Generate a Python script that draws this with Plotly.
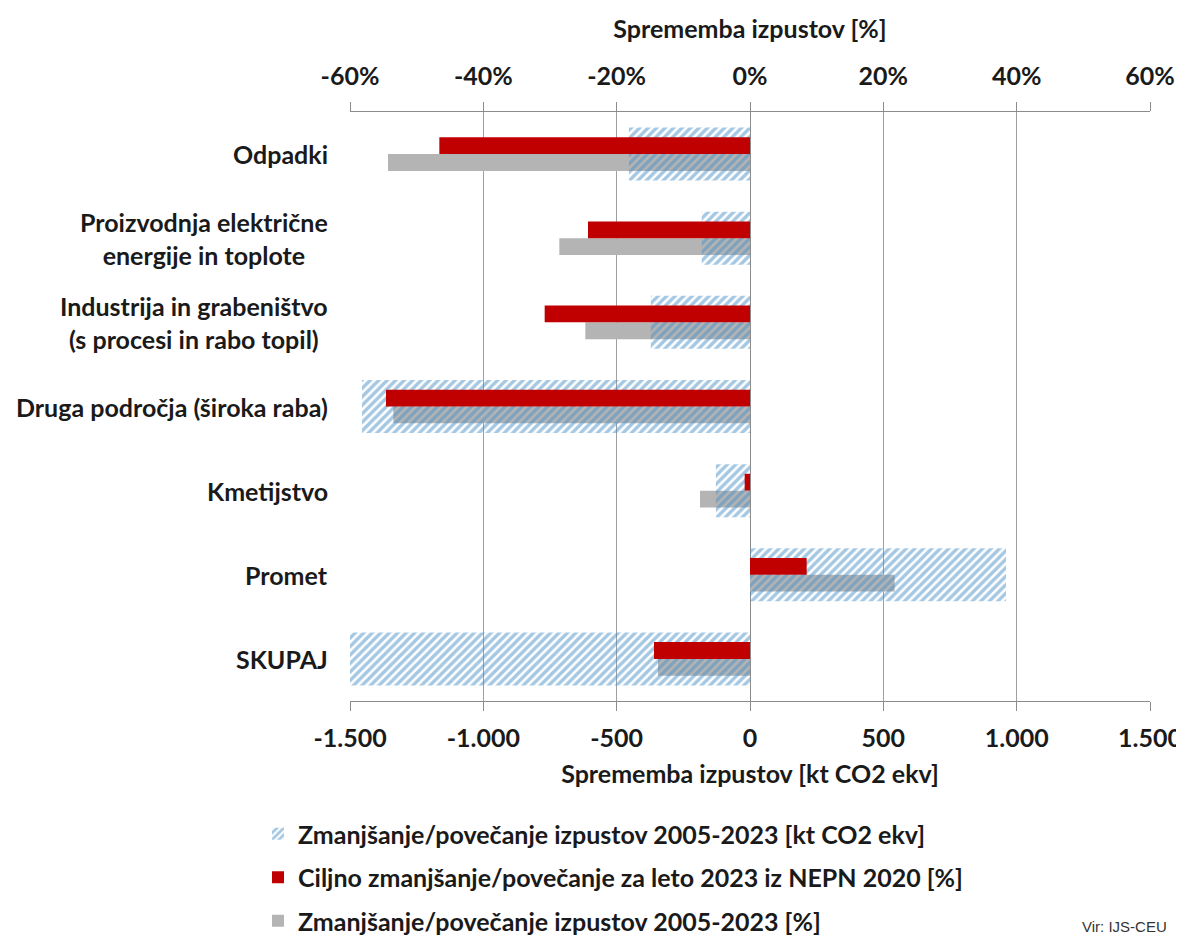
import plotly.graph_objects as go

categories = ["Odpadki", "Proizvodnja električne<br>energije in toplote",
              "Industrija in grabeništvo<br>(s procesi in rabo topil)",
              "Druga področja (široka raba)", "Kmetijstvo", "Promet", "SKUPAJ"]
cat_keys = ["odp", "elek", "ind", "druga", "kmet", "promet", "skupaj"]

change_kt = [-454, -181, -372, -1455, -128, 960, -1520]
target_pct = [-46.6, -24.3, -30.8, -54.6, -0.8, 8.5, -14.4]
change_pct = [-54.3, -28.6, -24.7, -53.5, -7.5, 21.7, -13.8]

pct_ticks = [-60, -40, -20, 0, 20, 40, 60]
pct_labels = ["-60%", "-40%", "-20%", "0%", "20%", "40%", "60%"]
kt_ticks = [-1500, -1000, -500, 0, 500, 1000, 1500]
kt_labels = ["-1.500", "-1.000", "-500", "0", "500", "1.000", "1.500"]

name_kt = "Zmanjšanje/povečanje izpustov 2005-2023 [kt CO2 ekv]"
name_target = "Ciljno zmanjšanje/povečanje za leto 2023 iz NEPN 2020 [%]"
name_pct = "Zmanjšanje/povečanje izpustov 2005-2023 [%]"

FONT = "Lato"
FS = 25
fig = go.Figure()

fig.add_trace(go.Bar(
    x=change_pct, y=cat_keys, orientation="h", xaxis="x", yaxis="y",
    name=name_pct, marker=dict(color="#b4b4b4", line=dict(width=0)),
    offset=0, width=0.2, legendrank=3, legendgroup="c"))

fig.add_trace(go.Bar(
    x=change_kt, y=cat_keys, orientation="h", xaxis="x2", yaxis="y",
    name=name_kt,
    marker=dict(color="rgba(255,255,255,0)", line=dict(width=0),
                pattern=dict(shape="/", fgcolor="#4a8fc6", bgcolor="rgba(0,0,0,0)",
                             size=6, solidity=0.58, fillmode="overlay")),
    offset=-0.315, width=0.63, legendrank=1, legendgroup="a"))

fig.add_trace(go.Bar(
    x=target_pct, y=cat_keys, orientation="h", xaxis="x3", yaxis="y",
    name=name_target, marker=dict(color="#c00000", line=dict(width=0)),
    offset=-0.2, width=0.2, legendrank=2, legendgroup="b"))

for key, label in zip(cat_keys, categories):
    fig.add_annotation(x=0, xref="paper", y=key, yref="y", text=label,
                       xanchor="right", yanchor="middle", align="center", xshift=-20,
                       showarrow=False,
                       font=dict(family=FONT, size=FS, color="#1a1a1a", weight="bold"))

# page has an 8px body margin: figure drawn from (8, 8); plot area 350..1150 x 112..701
PL, PT, PW, PH = 342, 104, 800, 589

fig.add_annotation(x=(1080 - 350) / PW, xref="paper", y=(701 - 926) / PH, yref="paper",
                   text="Vir: IJS-CEU", showarrow=False, xanchor="left", yanchor="middle",
                   font=dict(family="Liberation Sans", size=15, color="#333333"))

axis_font = dict(family=FONT, size=FS, color="#1a1a1a", weight="bold")

fig.update_layout(
    width=1176, height=933,
    margin=dict(l=PL, r=1176 - PL - PW, t=PT, b=933 - PT - PH, autoexpand=False),
    paper_bgcolor="white", plot_bgcolor="white",
    barmode="overlay",
    showlegend=True,
    font=dict(family=FONT, size=FS, color="#1a1a1a"),
    xaxis=dict(range=[-60, 60], side="top", tickvals=pct_ticks, ticktext=pct_labels,
               showgrid=True, gridcolor="#a0a0a0", gridwidth=1,
               zeroline=True, zerolinecolor="#8c8c8c", zerolinewidth=1,
               showline=True, linecolor="#8c8c8c", linewidth=1,
               ticks="outside", ticklen=9, tickcolor="#8c8c8c",
               ticklabelstandoff=7,
               tickfont=axis_font,
               title=dict(text="Sprememba izpustov [%]", font=axis_font, standoff=14)),
    xaxis2=dict(range=[-1500, 1500], side="bottom", overlaying="x", anchor="y",
                tickvals=kt_ticks, ticktext=kt_labels, showgrid=False, zeroline=False,
                showline=True, linecolor="#8c8c8c", linewidth=1,
                ticks="outside", ticklen=9, tickcolor="#8c8c8c",
                ticklabelstandoff=6,
                tickfont=axis_font,
                title=dict(text="Sprememba izpustov [kt CO2 ekv]", font=axis_font, standoff=14)),
    xaxis3=dict(range=[-60, 60], overlaying="x", anchor="y", visible=False),
    yaxis=dict(categoryorder="array", categoryarray=cat_keys, range=[6.5, -0.5],
               showticklabels=False, showgrid=False, zeroline=False, showline=False,
               ticks=""),
    legend=dict(x=(258 - 350) / PW, y=(701 - 811) / PH, xanchor="left", yanchor="top",
                orientation="v", tracegroupgap=8, bgcolor="rgba(0,0,0,0)",
                font=dict(family=FONT, size=FS, color="#1a1a1a", weight="bold"),
                traceorder="grouped"),
)

fig.write_html("out.html")
